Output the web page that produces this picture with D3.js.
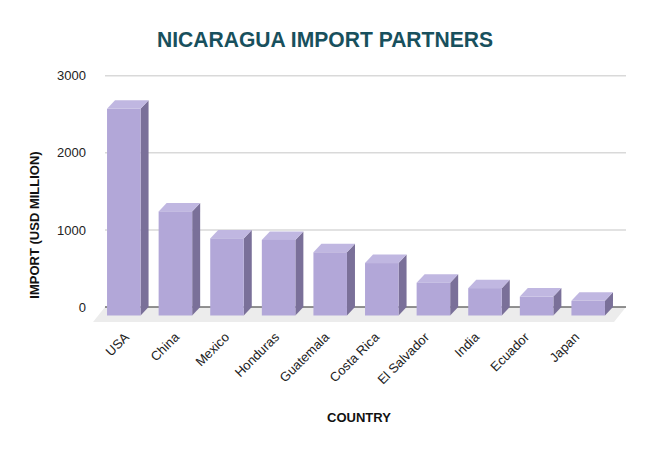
<!DOCTYPE html>
<html>
<head>
<meta charset="utf-8">
<script src="https://cdn.jsdelivr.net/npm/d3@7"></script>
<style>
  html, body { margin: 0; padding: 0; background: #ffffff; }
  svg { display: block; font-family: Arial, "Liberation Sans", sans-serif; }
</style>
</head>
<body>
<svg id="chart" width="650" height="450"></svg>
<script>
const countries = ["USA", "China", "Mexico", "Honduras", "Guatemala", "Costa Rica", "El Salvador", "India", "Ecuador", "Japan"];
const imports = [2680, 1350, 1000, 980, 820, 680, 425, 355, 245, 190];
const yTicks = [0, 1000, 2000, 3000];
const titleText = "NICARAGUA IMPORT PARTNERS";
const yTitle = "IMPORT (USD MILLION)";
const xTitle = "COUNTRY";

const svg = d3.select("#chart");
const W = 650, H = 450;
svg.append("rect").attr("width", W).attr("height", H).attr("fill", "#fff");

// depth offsets of the 3D effect
const dx = 8, dy = 8.5;

const x = d3.scaleBand().domain(countries).range([98, 614]).paddingInner(0.35).paddingOuter(0.175);
const yFront = d3.scaleLinear().domain([0, 3000]).range([315.5, 84.2]);
const yBack = d3.scaleLinear().domain([0, 3000]).range([315.5 - dy, 84.2 - dy]);
const xLabel = d3.scalePoint().domain(countries).range([130, 580]);

const backLeft = 105, backRight = 626;

// floor
const f0 = yBack(0);
svg.append("polygon")
  .attr("points", [[backLeft, f0], [backRight, f0], [backRight - 12, f0 + 15], [backLeft - 12, f0 + 15]].map(p => p.join(",")).join(" "))
  .attr("fill", "#ececec");

// gridlines
svg.append("g").selectAll("line").data(yTicks.filter(t => t > 0)).join("line")
  .attr("x1", backLeft).attr("x2", backRight)
  .attr("y1", d => yBack(d)).attr("y2", d => yBack(d))
  .attr("stroke", "#d9d9d9").attr("stroke-width", 1.5);

// baseline on the back wall
svg.append("line")
  .attr("x1", backLeft).attr("x2", backRight)
  .attr("y1", f0).attr("y2", f0)
  .attr("stroke", "#6e6e6e").attr("stroke-width", 1.6);

// y axis labels
const yAxis = d3.axisLeft(yBack).tickValues(yTicks).tickSize(0).tickPadding(19).tickFormat(d3.format("d"));
const gy = svg.append("g").attr("transform", `translate(${backLeft},0)`).call(yAxis);
gy.select(".domain").remove();
gy.selectAll("text").attr("font-size", 13).attr("fill", "#222").attr("font-family", "Arial, 'Liberation Sans', sans-serif");

// bars
const bars = svg.append("g").selectAll("g").data(countries.map((c, i) => ({c, v: imports[i]}))).join("g");
const bw = x.bandwidth();
bars.append("polygon") // side
  .attr("points", d => {
    const x0 = x(d.c) + bw, yt = yFront(d.v), yb = yFront(0);
    return [[x0, yt], [x0 + dx, yt - dy], [x0 + dx, yb - dy], [x0, yb]].map(p => p.join(",")).join(" ");
  })
  .attr("fill", "#7a7099");
bars.append("polygon") // top
  .attr("points", d => {
    const x0 = x(d.c), yt = yFront(d.v);
    return [[x0, yt], [x0 + dx, yt - dy], [x0 + bw + dx, yt - dy], [x0 + bw, yt]].map(p => p.join(",")).join(" ");
  })
  .attr("fill", "#c0b7e1");
bars.append("rect") // front
  .attr("x", d => x(d.c)).attr("y", d => yFront(d.v))
  .attr("width", bw).attr("height", d => yFront(0) - yFront(d.v))
  .attr("fill", "#b2a7d8");

// x labels
svg.append("g").selectAll("text").data(countries).join("text")
  .attr("transform", d => `translate(${xLabel(d)},338) rotate(-45)`)
  .attr("text-anchor", "end")
  .attr("font-size", 13).attr("fill", "#222")
  .text(d => d);

// title
svg.append("text")
  .attr("x", 325).attr("y", 47)
  .attr("text-anchor", "middle")
  .attr("font-size", 22).attr("font-weight", "bold")
  .attr("fill", "#18505d")
  .attr("textLength", 336).attr("lengthAdjust", "spacingAndGlyphs")
  .text(titleText);

// axis titles
svg.append("text")
  .attr("transform", "translate(39,225) rotate(-90)")
  .attr("text-anchor", "middle")
  .attr("font-size", 13).attr("font-weight", "bold").attr("fill", "#111")
  .text(yTitle);

svg.append("text")
  .attr("x", 359).attr("y", 422)
  .attr("text-anchor", "middle")
  .attr("font-size", 13).attr("font-weight", "bold").attr("fill", "#111")
  .text(xTitle);
</script>
</body>
</html>
